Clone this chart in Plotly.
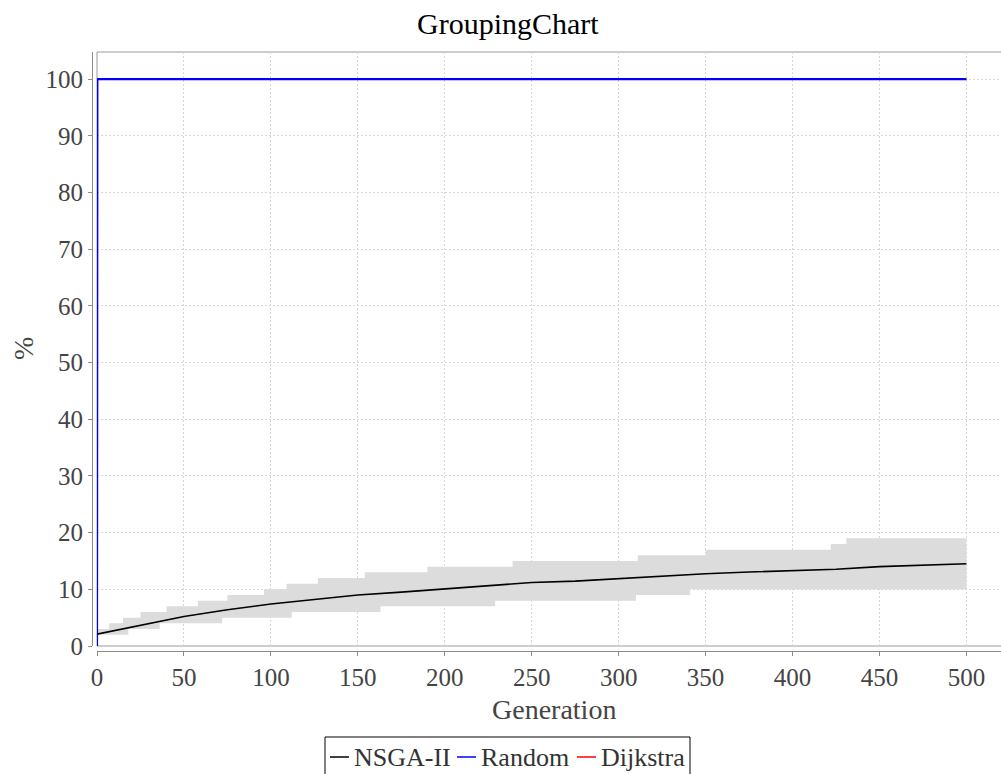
import plotly.graph_objects as go

# ---- data -------------------------------------------------------------
generations = [0, 25, 50, 75, 100, 125, 150, 175, 200, 225, 250,
               275, 300, 325, 350, 375, 400, 425, 450, 475, 500]
nsga_mean = [2.1, 3.7, 5.2, 6.4, 7.4, 8.2, 9.0, 9.5, 10.1, 10.65, 11.2,
             11.45, 11.9, 12.3, 12.75, 13.05, 13.3, 13.55, 14.0, 14.2, 14.5]

# min / max envelope of NSGA-II runs (step changes)
lower_gen = [0, 18, 36, 72, 112, 163, 229, 310, 341, 500]
lower_val = [2, 3, 4, 5, 6, 7, 8, 9, 10, 10]
upper_gen = [0, 7, 15, 25, 40, 58, 75, 96, 109, 127, 154, 190, 239, 311, 350, 422, 431, 500]
upper_val = [3, 4, 5, 6, 7, 8, 9, 10, 11, 12, 13, 14, 15, 16, 17, 18, 19, 19]

random_gen = [0, 0.2, 500]
random_val = [0, 100, 100]
dijkstra_gen = [0, 0.2, 500]
dijkstra_val = [0, 100, 100]

x_ticks = list(range(0, 501, 50))
y_ticks = list(range(0, 101, 10))

# ---- layout geometry (pixels) -----------------------------------------
W, H = 1001, 774
ML, MR, MT, MB = 92, 0, 52, 123
PW, PH = W - ML - MR, H - MT - MB
GAP = 5  # offset between axis lines and data area


def px_x(p):
    return (p - ML) / PW


def px_y(p):
    return (H - MB - p) / PH


FONT = "Liberation Serif"
GREY_TXT = "#444444"

fig = go.Figure()

fig.add_trace(go.Scatter(x=lower_gen, y=lower_val, mode="lines",
                         line=dict(width=0, shape="hv"),
                         hoverinfo="skip", showlegend=False))
fig.add_trace(go.Scatter(x=upper_gen, y=upper_val, mode="lines",
                         line=dict(width=0, shape="hv"),
                         fill="tonexty", fillcolor="#dcdcdc",
                         hoverinfo="skip", showlegend=False))
fig.add_trace(go.Scatter(x=dijkstra_gen, y=dijkstra_val, mode="lines",
                         line=dict(color="#ff0000", width=1), name="Dijkstra",
                         showlegend=False))
fig.add_trace(go.Scatter(x=random_gen, y=random_val, mode="lines",
                         line=dict(color="#0000ff", width=2.2), name="Random",
                         showlegend=False))
fig.add_trace(go.Scatter(x=generations, y=nsga_mean, mode="lines",
                         line=dict(color="#000000", width=1.6), name="NSGA-II",
                         showlegend=False))

axis_common = dict(
    showline=True, linecolor="#8c8c8c", linewidth=1,
    ticks="outside", ticklen=4, tickcolor="#8c8c8c",
    showgrid=True, gridcolor="#d6d6d6", griddash="2px,2px", gridwidth=1,
    zeroline=False,
    tickfont=dict(family=FONT, size=25, color=GREY_TXT),
)

fig.update_layout(
    width=W, height=H,
    margin=dict(l=ML, r=MR, t=MT, b=MB, pad=0),
    paper_bgcolor="white", plot_bgcolor="white",
    showlegend=False,
    xaxis=dict(axis_common, domain=[GAP / PW, 1], anchor="free", position=0,
               range=[0, 519.9], tickvals=x_ticks),
    yaxis=dict(axis_common, domain=[GAP / PH, 1], anchor="free", position=0,
               range=[0, 104.8], tickvals=y_ticks),
)

# data-area outline (its right side runs past the figure edge)
fig.add_shape(type="rect", xref="paper", yref="paper",
              x0=GAP / PW, x1=1.02, y0=GAP / PH, y1=1,
              line=dict(color="#9a9a9a", width=1), layer="below")

# title and axis titles
fig.add_annotation(text="GroupingChart", xref="paper", yref="paper",
                   x=px_x(508), y=px_y(24), xanchor="center", yanchor="middle",
                   showarrow=False, font=dict(family=FONT, size=30, color="#000000"))
fig.add_annotation(text="Generation", xref="paper", yref="paper",
                   x=px_x(554), y=px_y(709), xanchor="center", yanchor="middle",
                   showarrow=False, font=dict(family=FONT, size=28, color=GREY_TXT))
fig.add_annotation(text="%", xref="paper", yref="paper", textangle=-90,
                   x=px_x(23), y=px_y(349), xanchor="center", yanchor="middle",
                   showarrow=False, font=dict(family=FONT, size=28, color=GREY_TXT))

# legend box
fig.add_shape(type="rect", xref="paper", yref="paper",
              x0=px_x(325), x1=px_x(690), y0=px_y(737), y1=px_y(790),
              line=dict(color="#000000", width=1), fillcolor="white")
legend_items = [("NSGA-II", "#000000", 330), ("Random", "#0000ff", 457),
                ("Dijkstra", "#ff0000", 577)]
for label, color, x0 in legend_items:
    fig.add_shape(type="line", xref="paper", yref="paper",
                  x0=px_x(x0), x1=px_x(x0 + 19), y0=px_y(757), y1=px_y(757),
                  line=dict(color=color, width=1.5))
    fig.add_annotation(text=label, xref="paper", yref="paper",
                       x=px_x(x0 + 22), y=px_y(757), xanchor="left", yanchor="middle",
                       showarrow=False,
                       font=dict(family=FONT, size=26, color="#333333"))

fig.write_html("out.html")
